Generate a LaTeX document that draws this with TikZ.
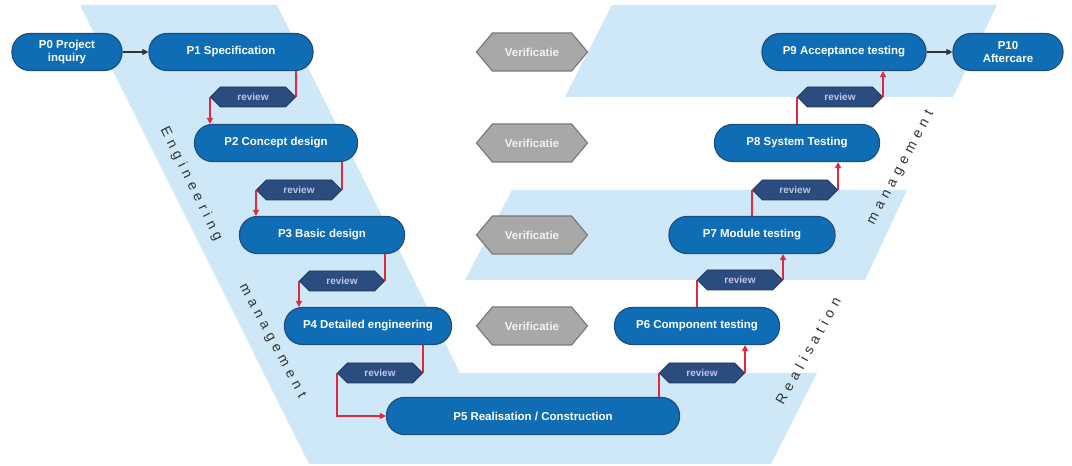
\documentclass[tikz,border=0pt]{standalone}
\usepackage{fontspec}
\setmainfont{Liberation Sans}
\newfontfamily\bandfont{Liberation Sans}[LetterSpace=36]
\usetikzlibrary{shapes.symbols,arrows.meta}
\definecolor{band}{HTML}{CFE8F8}
\definecolor{nodefill}{HTML}{0F6DB6}
\definecolor{nodeedge}{HTML}{1C4E7E}
\definecolor{revfill}{HTML}{2A4C7F}
\definecolor{revedge}{HTML}{1E3660}
\definecolor{verfill}{HTML}{A8A8A8}
\definecolor{veredge}{HTML}{7A7A7A}
\definecolor{redline}{HTML}{DC2A3E}
\definecolor{labeltext}{HTML}{333333}
\tikzset{
  phase/.style={rectangle, rounded corners=13.5pt, draw=nodeedge, line width=0.9pt,
    fill=nodefill, text=white, font=\bfseries\fontsize{8.6}{10.4}\selectfont,
    minimum height=27.75pt, inner sep=0pt, align=center},
  review/.style={signal, signal to=east and west, signal pointer angle=90,
    draw=revedge, line width=0.6pt, fill=revfill, text=white!85!blue!90!black,
    font=\bfseries\fontsize{7.5}{9}\selectfont,
    minimum width=63.75pt, minimum height=15pt, inner sep=0pt},
  verif/.style={signal, signal to=east and west, signal pointer angle=100,
    draw=veredge, line width=0.9pt, fill=verfill, text=white!95!black,
    font=\bfseries\fontsize{8.6}{10}\selectfont,
    minimum width=83.25pt, minimum height=28.5pt, inner sep=0pt},
  flow/.style={draw=redline, line width=0.9pt},
  flowarrow/.style={flow, -{Triangle[length=4.5pt,width=4.5pt]}},
  blackarrow/.style={draw=black!80, line width=0.8pt, -{Triangle[length=4.5pt,width=4.5pt]}},
  bandtext/.style={text=labeltext, font=\bandfont\fontsize{10.5}{12}\selectfont, inner sep=0pt},
  bandfill/.style={fill=band, draw=none}
}
\begin{document}
\begin{tikzpicture}[x=0.75pt,y=-0.75pt]
\useasboundingbox (0,0) rectangle (1072,466);
\fill[white] (0,0) rectangle (1072,466);
% background bands
\path[bandfill] (80,5) -- (277,5) -- (460,373) -- (817,373) -- (771,464) -- (309,464) -- cycle;
\path[bandfill] (612,5) -- (997,5) -- (953,97) -- (565,97) -- cycle;
\path[bandfill] (512,190) -- (907,190) -- (865,280) -- (465,280) -- cycle;
% band labels
\node[bandtext, rotate=-64] (engtxt) at (191,184) {Engineering};
\node[bandtext, rotate=-62] (mgmtL) at (272,341) {management};
\node[bandtext, rotate=61] (realtxt) at (808,351) {Realisation};
\node[bandtext, rotate=62] (mgmtR) at (901,168) {management};
% phases
\node[phase, minimum width=82.5pt] (P0) at (67,52) {P0 Project\\inquiry};
\node[phase, minimum width=123pt] (P1) at (231,52) {P1 Specification};
\node[phase, minimum width=122.25pt] (P2) at (276,143) {P2 Concept design};
\node[phase, minimum width=123.75pt] (P3) at (322,235) {P3 Basic design};
\node[phase, minimum width=125.25pt] (P4) at (368,326) {P4 Detailed engineering};
\node[phase, minimum width=219.75pt] (P5) at (533,416) {P5 Realisation / Construction};
\node[phase, minimum width=123.75pt] (P6) at (697,326) {P6 Component testing};
\node[phase, minimum width=124.5pt] (P7) at (752,235) {P7 Module testing};
\node[phase, minimum width=123.75pt] (P8) at (797,143) {P8 System Testing};
\node[phase, minimum width=123pt] (P9) at (844,52) {P9 Acceptance testing};
\node[phase, minimum width=82.5pt] (P10) at (1008,52) {P10\\Aftercare};
% reviews
\node[review] (r1) at (253,97) {review};
\node[review] (r2) at (299,190) {review};
\node[review] (r3) at (342,281) {review};
\node[review] (r4) at (380,373) {review};
\node[review] (r5) at (702,373) {review};
\node[review] (r6) at (740,280) {review};
\node[review] (r7) at (795,190) {review};
\node[review] (r8) at (840,97) {review};
% verificatie
\node[verif] (v1) at (532,52) {Verificatie};
\node[verif] (v2) at (532,143) {Verificatie};
\node[verif] (v3) at (532,235) {Verificatie};
\node[verif] (v4) at (532,326) {Verificatie};
% black connectors
\draw[blackarrow] (P0) -- (P1);
\draw[blackarrow] (P9) -- (P10);
% descending review flow
\draw[flow] (r1.east |- P1.south) -- (r1.east);
\draw[flowarrow] (r1.west) -- (r1.west |- P2.north);
\draw[flow] (r2.east |- P2.south) -- (r2.east);
\draw[flowarrow] (r2.west) -- (r2.west |- P3.north);
\draw[flow] (r3.east |- P3.south) -- (r3.east);
\draw[flowarrow] (r3.west) -- (r3.west |- P4.north);
\draw[flow] (r4.east |- P4.south) -- (r4.east);
\draw[flowarrow] (r4.west) |- (P5.west);
% ascending review flow
\draw[flow] (r5.west |- P5.north) -- (r5.west);
\draw[flowarrow] (r5.east) -- (r5.east |- P6.south);
\draw[flow] (r6.west |- P6.north) -- (r6.west);
\draw[flowarrow] (r6.east) -- (r6.east |- P7.south);
\draw[flow] (r7.west |- P7.north) -- (r7.west);
\draw[flowarrow] (r7.east) -- (r7.east |- P8.south);
\draw[flow] (r8.west |- P8.north) -- (r8.west);
\draw[flowarrow] (r8.east) -- (r8.east |- P9.south);
\end{tikzpicture}
\end{document}
